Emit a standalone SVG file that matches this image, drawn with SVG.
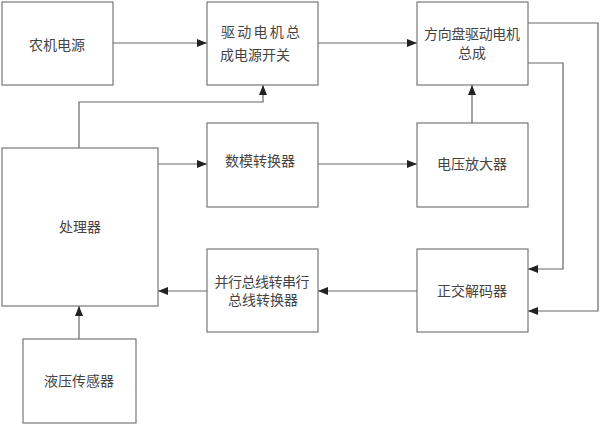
<svg xmlns="http://www.w3.org/2000/svg" width="600" height="425" viewBox="0 0 600 425">
<defs>
<marker id="ah" markerWidth="10" markerHeight="8" refX="10" refY="4" orient="auto" markerUnits="userSpaceOnUse">
<path d="M0,0 L10,4 L0,8 Z" fill="#222"/>
</marker>
<style>
.box{fill:#fff;stroke:#777;stroke-width:1.2}
.t{font-family:"Liberation Serif","Noto Sans CJK SC",serif;font-size:14px;fill:#444;text-anchor:middle}
.c{fill:none;stroke:#666;stroke-width:1.2}
</style>
</defs>
<rect width="600" height="425" fill="#fff"/>
<g id="connectors">
<path class="c" d="M113,43 H207" marker-end="url(#ah)"/>
<path class="c" d="M318,43 H417" marker-end="url(#ah)"/>
<path class="c" d="M79,148 V102 H263 V85" marker-end="url(#ah)"/>
<path class="c" d="M158,164 H207" marker-end="url(#ah)"/>
<path class="c" d="M318,164 H417" marker-end="url(#ah)"/>
<path class="c" d="M472,123 V85" marker-end="url(#ah)"/>
<path class="c" d="M528,23 H598 V311 H528" marker-end="url(#ah)"/>
<path class="c" d="M528,63 H563 V269 H528" marker-end="url(#ah)"/>
<path class="c" d="M417,291 H318" marker-end="url(#ah)"/>
<path class="c" d="M207,291 H158" marker-end="url(#ah)"/>
<path class="c" d="M79,339 V306" marker-end="url(#ah)"/>
</g>
<g id="power">
<rect class="box" x="2" y="2" width="111" height="83"/>
<text class="t" x="57" y="50">农机电源</text>
</g>
<g id="switch">
<rect class="box" x="207" y="2" width="111" height="83"/>
<text class="t" x="221" y="37" style="text-anchor:start" textLength="79">驱动电机总</text>
<text class="t" x="220" y="60" style="text-anchor:start">成电源开关</text>
</g>
<g id="motor">
<rect class="box" x="417" y="2" width="111" height="83"/>
<text class="t" x="472" y="39" textLength="96">方向盘驱动电机</text>
<text class="t" x="472" y="58">总成</text>
</g>
<g id="dac">
<rect class="box" x="207" y="123" width="111" height="84"/>
<text class="t" x="260" y="166">数模转换器</text>
</g>
<g id="amp">
<rect class="box" x="417" y="123" width="111" height="84"/>
<text class="t" x="472" y="169">电压放大器</text>
</g>
<g id="cpu">
<rect class="box" x="2" y="148" width="156" height="158"/>
<text class="t" x="80" y="232">处理器</text>
</g>
<g id="p2s">
<rect class="box" x="207" y="249" width="111" height="83"/>
<text class="t" x="262" y="287" textLength="95">并行总线转串行</text>
<text class="t" x="263" y="305">总线转换器</text>
</g>
<g id="decoder">
<rect class="box" x="417" y="249" width="111" height="83"/>
<text class="t" x="472" y="296">正交解码器</text>
</g>
<g id="sensor">
<rect class="box" x="23" y="339" width="113" height="84"/>
<text class="t" x="79" y="386">液压传感器</text>
</g>
</svg>
